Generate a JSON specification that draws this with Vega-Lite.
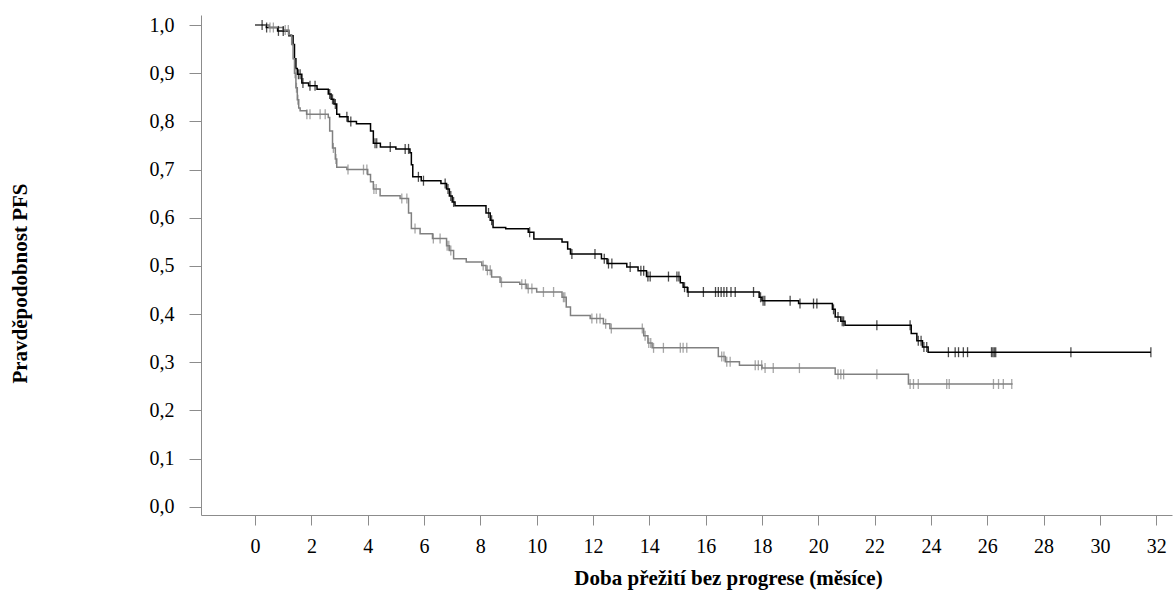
{
  "$schema": "https://vega.github.io/schema/vega-lite/v6.json",
  "autosize": {"type": "none"},
  "width": 971,
  "height": 500,
  "padding": {"left": 201, "top": 15, "right": 3, "bottom": 78},
  "background": "white",
  "config": {
    "view": {"stroke": null},
    "font": "Liberation Serif",
    "axis": {
      "grid": false,
      "domainColor": "#8c8c8c",
      "tickColor": "#8c8c8c",
      "labelColor": "#000000",
      "labelFont": "Liberation Serif",
      "labelFontSize": 20,
      "titleFont": "Liberation Serif",
      "titleFontSize": 21,
      "titleFontWeight": "bold",
      "titleColor": "#000000"
    }
  },
  "datasets": {
    "steps": [
      {"g": "B", "t": 0, "s": 1.0},
      {"g": "B", "t": 0.4, "s": 0.995},
      {"g": "B", "t": 0.8, "s": 0.988},
      {"g": "B", "t": 1.2, "s": 0.978},
      {"g": "B", "t": 1.35, "s": 0.96},
      {"g": "B", "t": 1.4, "s": 0.93},
      {"g": "B", "t": 1.45, "s": 0.91},
      {"g": "B", "t": 1.5, "s": 0.898},
      {"g": "B", "t": 1.66, "s": 0.88},
      {"g": "B", "t": 1.9, "s": 0.874},
      {"g": "B", "t": 2.2, "s": 0.867},
      {"g": "B", "t": 2.6, "s": 0.857},
      {"g": "B", "t": 2.7, "s": 0.846},
      {"g": "B", "t": 2.8, "s": 0.836},
      {"g": "B", "t": 2.9, "s": 0.815},
      {"g": "B", "t": 3.0, "s": 0.81},
      {"g": "B", "t": 3.3, "s": 0.80},
      {"g": "B", "t": 3.6, "s": 0.795},
      {"g": "B", "t": 4.1, "s": 0.78},
      {"g": "B", "t": 4.2, "s": 0.755},
      {"g": "B", "t": 4.45, "s": 0.747},
      {"g": "B", "t": 5.0, "s": 0.743},
      {"g": "B", "t": 5.5, "s": 0.735},
      {"g": "B", "t": 5.55, "s": 0.71},
      {"g": "B", "t": 5.6, "s": 0.685},
      {"g": "B", "t": 5.9, "s": 0.677},
      {"g": "B", "t": 6.6, "s": 0.671},
      {"g": "B", "t": 6.8, "s": 0.66},
      {"g": "B", "t": 6.9, "s": 0.645},
      {"g": "B", "t": 7.0, "s": 0.633},
      {"g": "B", "t": 7.1, "s": 0.625},
      {"g": "B", "t": 8.2, "s": 0.61},
      {"g": "B", "t": 8.35, "s": 0.595},
      {"g": "B", "t": 8.45, "s": 0.58},
      {"g": "B", "t": 8.9, "s": 0.577},
      {"g": "B", "t": 9.7, "s": 0.57},
      {"g": "B", "t": 9.9, "s": 0.556},
      {"g": "B", "t": 10.9, "s": 0.55},
      {"g": "B", "t": 11.1, "s": 0.535},
      {"g": "B", "t": 11.2, "s": 0.525},
      {"g": "B", "t": 12.3, "s": 0.515},
      {"g": "B", "t": 12.5, "s": 0.505},
      {"g": "B", "t": 13.2, "s": 0.498},
      {"g": "B", "t": 13.6, "s": 0.49},
      {"g": "B", "t": 13.9, "s": 0.478},
      {"g": "B", "t": 15.1, "s": 0.465},
      {"g": "B", "t": 15.2, "s": 0.456},
      {"g": "B", "t": 15.35, "s": 0.446},
      {"g": "B", "t": 17.9, "s": 0.435},
      {"g": "B", "t": 18.0, "s": 0.428},
      {"g": "B", "t": 19.3, "s": 0.422},
      {"g": "B", "t": 20.5, "s": 0.41},
      {"g": "B", "t": 20.6, "s": 0.394},
      {"g": "B", "t": 20.8, "s": 0.385},
      {"g": "B", "t": 20.95, "s": 0.377},
      {"g": "B", "t": 23.3, "s": 0.36},
      {"g": "B", "t": 23.5, "s": 0.345},
      {"g": "B", "t": 23.7, "s": 0.332},
      {"g": "B", "t": 23.9, "s": 0.321},
      {"g": "B", "t": 31.81, "s": 0.321},
      {"g": "G", "t": 0, "s": 1.0},
      {"g": "G", "t": 0.5, "s": 0.995},
      {"g": "G", "t": 1.0, "s": 0.99},
      {"g": "G", "t": 1.2, "s": 0.98},
      {"g": "G", "t": 1.3, "s": 0.96},
      {"g": "G", "t": 1.35, "s": 0.93},
      {"g": "G", "t": 1.4, "s": 0.90},
      {"g": "G", "t": 1.45, "s": 0.87},
      {"g": "G", "t": 1.5, "s": 0.845},
      {"g": "G", "t": 1.55, "s": 0.828},
      {"g": "G", "t": 1.6, "s": 0.822},
      {"g": "G", "t": 1.83, "s": 0.815},
      {"g": "G", "t": 2.6, "s": 0.808},
      {"g": "G", "t": 2.65, "s": 0.78},
      {"g": "G", "t": 2.75, "s": 0.745},
      {"g": "G", "t": 2.85, "s": 0.722},
      {"g": "G", "t": 2.9, "s": 0.705},
      {"g": "G", "t": 3.26, "s": 0.70},
      {"g": "G", "t": 4.0, "s": 0.69},
      {"g": "G", "t": 4.1, "s": 0.675},
      {"g": "G", "t": 4.2, "s": 0.66},
      {"g": "G", "t": 4.44, "s": 0.646},
      {"g": "G", "t": 5.15, "s": 0.64},
      {"g": "G", "t": 5.45, "s": 0.61},
      {"g": "G", "t": 5.55, "s": 0.578},
      {"g": "G", "t": 5.86, "s": 0.567},
      {"g": "G", "t": 6.3, "s": 0.557},
      {"g": "G", "t": 6.8, "s": 0.542},
      {"g": "G", "t": 6.9, "s": 0.532},
      {"g": "G", "t": 7.05, "s": 0.515},
      {"g": "G", "t": 7.5, "s": 0.508},
      {"g": "G", "t": 8.05, "s": 0.501},
      {"g": "G", "t": 8.2, "s": 0.491},
      {"g": "G", "t": 8.4, "s": 0.477},
      {"g": "G", "t": 8.7, "s": 0.466},
      {"g": "G", "t": 9.4, "s": 0.462},
      {"g": "G", "t": 9.65, "s": 0.453},
      {"g": "G", "t": 10.0, "s": 0.446},
      {"g": "G", "t": 10.9, "s": 0.435},
      {"g": "G", "t": 11.05, "s": 0.415},
      {"g": "G", "t": 11.2, "s": 0.397},
      {"g": "G", "t": 11.9, "s": 0.391},
      {"g": "G", "t": 12.37, "s": 0.38},
      {"g": "G", "t": 12.6, "s": 0.37},
      {"g": "G", "t": 13.8, "s": 0.355},
      {"g": "G", "t": 13.95, "s": 0.34},
      {"g": "G", "t": 14.1, "s": 0.33},
      {"g": "G", "t": 16.45, "s": 0.312},
      {"g": "G", "t": 16.7, "s": 0.301},
      {"g": "G", "t": 17.2, "s": 0.294},
      {"g": "G", "t": 18.0, "s": 0.288},
      {"g": "G", "t": 20.6, "s": 0.275},
      {"g": "G", "t": 23.2, "s": 0.255},
      {"g": "G", "t": 26.9, "s": 0.255}
    ],
    "censors": [
      {"g": "B", "t": 0.25, "s": 1.0},
      {"g": "B", "t": 0.41, "s": 0.995},
      {"g": "B", "t": 0.83, "s": 0.988},
      {"g": "B", "t": 1.0, "s": 0.988},
      {"g": "B", "t": 1.54, "s": 0.898},
      {"g": "B", "t": 1.6, "s": 0.898},
      {"g": "B", "t": 1.7, "s": 0.88},
      {"g": "B", "t": 1.95, "s": 0.874},
      {"g": "B", "t": 2.13, "s": 0.874},
      {"g": "B", "t": 2.65, "s": 0.857},
      {"g": "B", "t": 2.75, "s": 0.846},
      {"g": "B", "t": 2.85, "s": 0.836},
      {"g": "B", "t": 3.26, "s": 0.81},
      {"g": "B", "t": 3.4, "s": 0.80},
      {"g": "B", "t": 4.26, "s": 0.755},
      {"g": "B", "t": 4.32, "s": 0.755},
      {"g": "B", "t": 4.8, "s": 0.747},
      {"g": "B", "t": 5.33, "s": 0.743},
      {"g": "B", "t": 5.45, "s": 0.743},
      {"g": "B", "t": 5.8, "s": 0.685},
      {"g": "B", "t": 5.98, "s": 0.677},
      {"g": "B", "t": 6.75, "s": 0.671},
      {"g": "B", "t": 6.85, "s": 0.66},
      {"g": "B", "t": 6.95, "s": 0.645},
      {"g": "B", "t": 7.05, "s": 0.633},
      {"g": "B", "t": 8.29, "s": 0.61},
      {"g": "B", "t": 8.4, "s": 0.595},
      {"g": "B", "t": 9.75, "s": 0.57},
      {"g": "B", "t": 11.25, "s": 0.525},
      {"g": "B", "t": 12.07, "s": 0.525},
      {"g": "B", "t": 12.4, "s": 0.515},
      {"g": "B", "t": 12.55, "s": 0.505},
      {"g": "B", "t": 12.67, "s": 0.505},
      {"g": "B", "t": 13.32, "s": 0.498},
      {"g": "B", "t": 13.7, "s": 0.49},
      {"g": "B", "t": 13.8, "s": 0.49},
      {"g": "B", "t": 13.95, "s": 0.478},
      {"g": "B", "t": 14.03, "s": 0.478},
      {"g": "B", "t": 14.68, "s": 0.478},
      {"g": "B", "t": 14.98, "s": 0.478},
      {"g": "B", "t": 15.05, "s": 0.478},
      {"g": "B", "t": 15.25, "s": 0.456},
      {"g": "B", "t": 15.38, "s": 0.446},
      {"g": "B", "t": 15.92, "s": 0.446},
      {"g": "B", "t": 16.35, "s": 0.446},
      {"g": "B", "t": 16.45, "s": 0.446},
      {"g": "B", "t": 16.55, "s": 0.446},
      {"g": "B", "t": 16.65, "s": 0.446},
      {"g": "B", "t": 16.75, "s": 0.446},
      {"g": "B", "t": 16.9, "s": 0.446},
      {"g": "B", "t": 17.05, "s": 0.446},
      {"g": "B", "t": 17.7, "s": 0.446},
      {"g": "B", "t": 17.95, "s": 0.435},
      {"g": "B", "t": 18.04, "s": 0.428},
      {"g": "B", "t": 18.1, "s": 0.428},
      {"g": "B", "t": 19.0, "s": 0.428},
      {"g": "B", "t": 19.35, "s": 0.422},
      {"g": "B", "t": 19.83, "s": 0.422},
      {"g": "B", "t": 19.95, "s": 0.422},
      {"g": "B", "t": 20.54, "s": 0.41},
      {"g": "B", "t": 20.7, "s": 0.394},
      {"g": "B", "t": 20.85, "s": 0.385},
      {"g": "B", "t": 20.9, "s": 0.385},
      {"g": "B", "t": 22.08, "s": 0.377},
      {"g": "B", "t": 23.26, "s": 0.377},
      {"g": "B", "t": 23.55, "s": 0.345},
      {"g": "B", "t": 23.65, "s": 0.345},
      {"g": "B", "t": 23.75, "s": 0.332},
      {"g": "B", "t": 23.85, "s": 0.332},
      {"g": "B", "t": 24.62, "s": 0.321},
      {"g": "B", "t": 24.86, "s": 0.321},
      {"g": "B", "t": 24.98, "s": 0.321},
      {"g": "B", "t": 25.15, "s": 0.321},
      {"g": "B", "t": 25.3, "s": 0.321},
      {"g": "B", "t": 26.15, "s": 0.321},
      {"g": "B", "t": 26.2, "s": 0.321},
      {"g": "B", "t": 26.25, "s": 0.321},
      {"g": "B", "t": 26.3, "s": 0.321},
      {"g": "B", "t": 28.97, "s": 0.321},
      {"g": "B", "t": 31.81, "s": 0.321},
      {"g": "G", "t": 0.53, "s": 0.995},
      {"g": "G", "t": 0.65, "s": 0.995},
      {"g": "G", "t": 1.07, "s": 0.99},
      {"g": "G", "t": 1.18, "s": 0.99},
      {"g": "G", "t": 1.42, "s": 0.90},
      {"g": "G", "t": 1.47, "s": 0.87},
      {"g": "G", "t": 1.52, "s": 0.845},
      {"g": "G", "t": 1.84, "s": 0.815},
      {"g": "G", "t": 1.95, "s": 0.815},
      {"g": "G", "t": 2.31, "s": 0.815},
      {"g": "G", "t": 2.49, "s": 0.815},
      {"g": "G", "t": 2.78, "s": 0.745},
      {"g": "G", "t": 2.87, "s": 0.722},
      {"g": "G", "t": 3.3, "s": 0.70},
      {"g": "G", "t": 3.85, "s": 0.70},
      {"g": "G", "t": 3.97, "s": 0.70},
      {"g": "G", "t": 4.22, "s": 0.66},
      {"g": "G", "t": 4.3, "s": 0.66},
      {"g": "G", "t": 5.21, "s": 0.64},
      {"g": "G", "t": 5.39, "s": 0.64},
      {"g": "G", "t": 5.68, "s": 0.578},
      {"g": "G", "t": 6.33, "s": 0.557},
      {"g": "G", "t": 6.57, "s": 0.557},
      {"g": "G", "t": 6.82, "s": 0.542},
      {"g": "G", "t": 6.88, "s": 0.542},
      {"g": "G", "t": 6.95, "s": 0.532},
      {"g": "G", "t": 8.1, "s": 0.501},
      {"g": "G", "t": 8.25, "s": 0.491},
      {"g": "G", "t": 8.35, "s": 0.491},
      {"g": "G", "t": 8.75, "s": 0.466},
      {"g": "G", "t": 9.47, "s": 0.462},
      {"g": "G", "t": 9.6, "s": 0.462},
      {"g": "G", "t": 9.7, "s": 0.453},
      {"g": "G", "t": 9.83, "s": 0.453},
      {"g": "G", "t": 10.24, "s": 0.446},
      {"g": "G", "t": 10.6, "s": 0.446},
      {"g": "G", "t": 10.95, "s": 0.435},
      {"g": "G", "t": 11.0, "s": 0.435},
      {"g": "G", "t": 11.96, "s": 0.391},
      {"g": "G", "t": 12.13, "s": 0.391},
      {"g": "G", "t": 12.25, "s": 0.391},
      {"g": "G", "t": 12.45, "s": 0.38},
      {"g": "G", "t": 12.65, "s": 0.37},
      {"g": "G", "t": 13.75, "s": 0.37},
      {"g": "G", "t": 13.85, "s": 0.355},
      {"g": "G", "t": 13.98, "s": 0.34},
      {"g": "G", "t": 14.05, "s": 0.34},
      {"g": "G", "t": 14.15, "s": 0.33},
      {"g": "G", "t": 14.5, "s": 0.33},
      {"g": "G", "t": 15.1, "s": 0.33},
      {"g": "G", "t": 15.2, "s": 0.33},
      {"g": "G", "t": 15.33, "s": 0.33},
      {"g": "G", "t": 16.57, "s": 0.312},
      {"g": "G", "t": 16.65, "s": 0.312},
      {"g": "G", "t": 16.75, "s": 0.301},
      {"g": "G", "t": 16.87, "s": 0.301},
      {"g": "G", "t": 17.76, "s": 0.294},
      {"g": "G", "t": 17.87, "s": 0.294},
      {"g": "G", "t": 17.99, "s": 0.294},
      {"g": "G", "t": 18.11, "s": 0.288},
      {"g": "G", "t": 18.4, "s": 0.288},
      {"g": "G", "t": 19.33, "s": 0.288},
      {"g": "G", "t": 20.7, "s": 0.275},
      {"g": "G", "t": 20.8, "s": 0.275},
      {"g": "G", "t": 20.9, "s": 0.275},
      {"g": "G", "t": 22.08, "s": 0.275},
      {"g": "G", "t": 23.26, "s": 0.255},
      {"g": "G", "t": 23.38, "s": 0.255},
      {"g": "G", "t": 23.55, "s": 0.255},
      {"g": "G", "t": 24.56, "s": 0.255},
      {"g": "G", "t": 24.65, "s": 0.255},
      {"g": "G", "t": 26.22, "s": 0.255},
      {"g": "G", "t": 26.4, "s": 0.255},
      {"g": "G", "t": 26.57, "s": 0.255},
      {"g": "G", "t": 26.87, "s": 0.255}
    ]
  },
  "encoding": {
    "x": {
      "field": "t",
      "type": "quantitative",
      "scale": {"domain": [-1.92, 32.56], "nice": false, "zero": false},
      "axis": {
        "values": [0, 2, 4, 6, 8, 10, 12, 14, 16, 18, 20, 22, 24, 26, 28, 30, 32],
        "title": "Doba přežití bez progrese (měsíce)",
        "tickSize": 10,
        "labelPadding": 11,
        "titleX": 527,
        "titleY": 63,
        "titleAlign": "center",
        "titleBaseline": "middle"
      }
    },
    "y": {
      "field": "s",
      "type": "quantitative",
      "scale": {"domain": [-0.017, 1.021], "nice": false, "zero": false},
      "axis": {
        "values": [0, 0.1, 0.2, 0.3, 0.4, 0.5, 0.6, 0.7, 0.8, 0.9, 1.0],
        "labelExpr": "replace(format(datum.value, '.1f'), '.', ',')",
        "title": "Pravděpodobnost PFS",
        "tickSize": 12,
        "labelPadding": 15,
        "titleX": -181,
        "titleY": 268,
        "titleAlign": "center",
        "titleBaseline": "middle",
        "titleAngle": -90
      }
    },
    "color": {
      "field": "g",
      "type": "nominal",
      "scale": {"domain": ["B", "G"], "range": ["#000000", "#808080"]},
      "legend": null
    }
  },
  "layer": [
    {
      "data": {"name": "steps"},
      "mark": {"type": "line", "interpolate": "step-after", "strokeWidth": 1.5}
    },
    {
      "data": {"name": "censors"},
      "mark": {"type": "tick", "orient": "vertical", "size": 10, "thickness": 1.3}
    }
  ]
}
